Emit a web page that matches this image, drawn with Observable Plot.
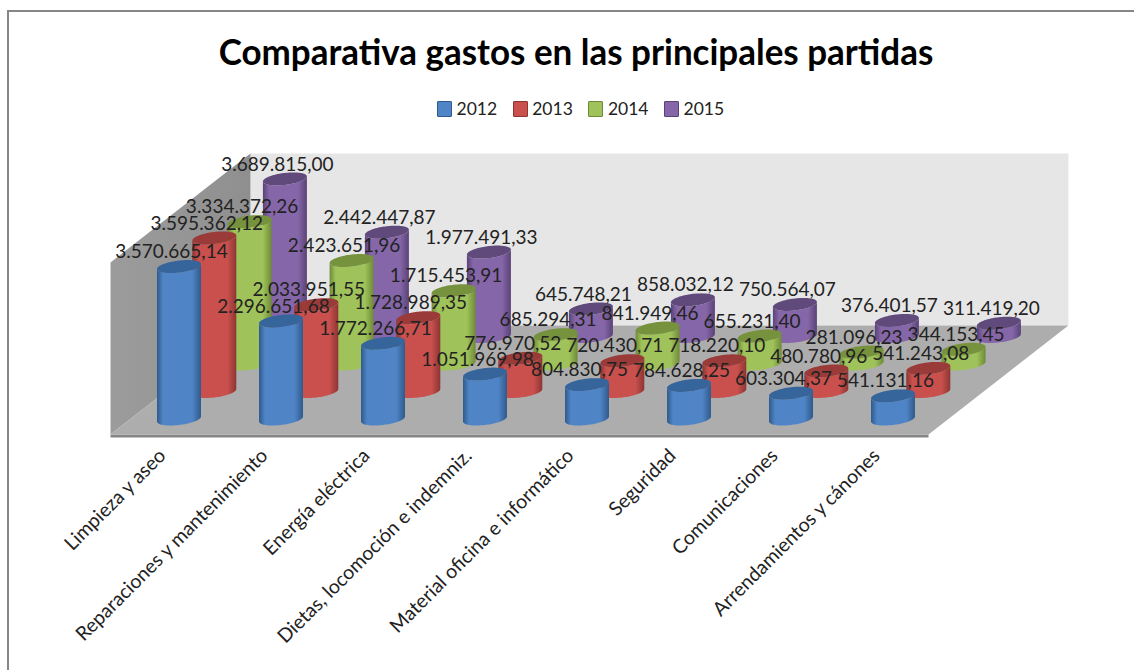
<!DOCTYPE html>
<html lang="es">
<head>
<meta charset="utf-8">
<script src="https://cdn.jsdelivr.net/npm/d3@7"></script>
<script src="https://cdn.jsdelivr.net/npm/@observablehq/plot@0.6"></script>
<style>
  html, body { margin: 0; background: #fff; overflow: hidden; }
  #frame { position: relative; width: 1134px; height: 670px; box-sizing: border-box; font-family: Lato, sans-serif; color: #222; }
  #frame::before { content: ""; position: absolute; left: 7px; top: 10px; right: 0; bottom: 0; border: solid #868686; border-width: 2px 0 0 2px; pointer-events: none; }
  #head { height: 130px; position: relative; }
  #title { position: absolute; left: 0; width: 1152px; top: 28px; text-align: center; font-size: 37px; font-weight: 700; line-height: 46px; color: #000; transform: scaleX(0.945); }
  #legend { position: absolute; left: 437px; top: 98px; display: flex; gap: 0; font-size: 17.5px; line-height: 22px; }
  #legend span.item { display: flex; align-items: center; gap: 4.5px; width: 75.7px; }
  #legend i { display: block; width: 13px; height: 14px; border: 1px solid; border-radius: 1px; }
  svg { display: block; }
</style>
</head>
<body>
<div id="frame">
  <div id="head">
    <div id="title">Comparativa gastos en las principales partidas</div>
    <div id="legend"></div>
  </div>
  <div id="chart"></div>
</div>
<script>
const categories = ["Limpieza y aseo","Reparaciones y mantenimiento","Energía eléctrica","Dietas, locomoción e indemniz.","Material oficina e informático","Seguridad","Comunicaciones","Arrendamientos y cánones"];
const years = ["2012","2013","2014","2015"];
const values2012 = [3570665.14,2296651.68,1772266.71,1051969.98,804830.75,784628.25,603304.37,541131.16];
const values2013 = [3595362.12,2033951.55,1728989.35,776970.52,720430.71,718220.10,480780.96,541243.08];
const values2014 = [3334372.26,2423651.96,1715453.91,685294.31,841949.46,655231.40,281096.23,344153.45];
const values2015 = [3689815.00,2442447.87,1977491.33,645748.21,858032.12,750564.07,376401.57,311419.20];
const allValues = [values2012,values2013,values2014,values2015];
const bodyColors = ["#4f85c6","#c9504d","#9fc35a","#8566a8"];
const edgeColors = ["#2f5a8c","#8c3533","#6f8a37","#5a4276"];
const capColors  = ["#36659b","#9a3b39","#76923c","#604a7b"];

// Oblique projection of (category, depth, value) into the plot's x / y scale units.
const pxPerCat = 102, pxPerVal = 4.27e-5;
const dxDepth = 35.3 / pxPerCat, dyDepth = 27.5 / pxPerVal;
const X = (i, j) => i + j * dxDepth;
const Y = (j, v) => v + j * dyDepth;
const svgTop = 130, svgH = 540;
const baseX = 179, baseY = 419;

const rx = 22 / pxPerCat, ry = 6 / pxPerVal, tilt = 2.5 / pxPerVal;
const N = 48;
function arcs(cx, yA, yB, capMode) {
  return d3.range(N + 1).map(k => {
    const c = -Math.cos(Math.PI * k / N), s = Math.sin(Math.PI * k / N);
    return {
      x: cx + rx * c,
      y1: yA + tilt * c - ry * s,
      y2: capMode ? yA + tilt * c + ry * s : yB + tilt * c - ry * s
    };
  });
}

const jFront = -15 / 27.5, jBack = jFront + 109 / 27.5;
const iLeft = (110 - baseX) / pxPerCat - jFront * dxDepth;
const iRight = iLeft + 818 / pxPerCat;
const vMax = 4030000;
const corner = (i, j, v) => ({x: X(i, j), y: Y(j, v)});
const poly = (pts, fill) => Plot.line([...pts, pts[0]], {x: "x", y: "y", fill, stroke: "none", curve: "linear"});

const marks = [
  poly([corner(iLeft, jBack, 0), corner(iRight, jBack, 0), corner(iRight, jBack, vMax), corner(iLeft, jBack, vMax)], "#e6e6e6"),
  poly([corner(iLeft, jFront, 0), corner(iLeft, jBack, 0), corner(iLeft, jBack, vMax), corner(iLeft, jFront, vMax)], "url(#wall)"),
  poly([corner(iLeft, jFront, -70000), corner(iRight, jFront, -70000), corner(iRight, jFront, 0), corner(iLeft, jFront, 0)], "#868686"),
  poly([corner(iLeft, jFront, 0), corner(iRight, jFront, 0), corner(iRight, jBack, 0), corner(iLeft, jBack, 0)], "#adadad")
];

for (let j = 3; j >= 0; j--) {
  for (let i = 0; i < categories.length; i++) {
    const v = allValues[j][i], cx = X(i, j), y0 = Y(j, 0), y1 = Y(j, v);
    marks.push(Plot.area(arcs(cx, y0, y1, false), {x1: "x", y1: "y1", y2: "y2", fill: `url(#body${j})`, curve: "linear"}));
    marks.push(Plot.area(arcs(cx, y1, y1, true), {x1: "x", y1: "y1", y2: "y2", fill: capColors[j], curve: "linear"}));
  }
}

const es = d3.formatLocale({decimal: ",", thousands: ".", grouping: [3], currency: ["", "€"]});
const fmt = es.format(",.2f");
const labels = allValues.flatMap((vals, j) => vals.map((v, i) => ({
  x: X(i, j) - 8 / pxPerCat,
  y: Y(j, v) + 15 / pxPerVal,
  text: fmt(v)
})));
marks.push(Plot.text(labels, {x: "x", y: "y", text: "text", fill: "#222", fontSize: 19, fontFamily: "Lato, sans-serif"}));

marks.push(Plot.text(categories, {
  x: (d, i) => X(i, 0) - 17 / pxPerCat,
  y: () => (baseY - 452) / pxPerVal,
  text: d => d,
  rotate: -45,
  textAnchor: "end",
  fill: "#222",
  fontSize: 19.5,
  fontFamily: "Lato, sans-serif"
}));

const plot = Plot.plot({
  width: 1134,
  height: svgH,
  margin: 0,
  style: {background: "transparent", overflow: "visible"},
  x: {domain: [-baseX / pxPerCat, (1134 - baseX) / pxPerCat], range: [0, 1134], axis: null},
  y: {domain: [(baseY - (svgTop + svgH)) / pxPerVal, (baseY - svgTop) / pxPerVal], range: [svgH, 0], axis: null},
  marks
});

const ns = "http://www.w3.org/2000/svg";
const defs = document.createElementNS(ns, "defs");
function gradient(id, stops) {
  const g = document.createElementNS(ns, "linearGradient");
  g.setAttribute("id", id);
  g.setAttribute("x1", "0"); g.setAttribute("x2", "1"); g.setAttribute("y1", "0"); g.setAttribute("y2", "0");
  stops.forEach(([o, c]) => {
    const s = document.createElementNS(ns, "stop");
    s.setAttribute("offset", o); s.setAttribute("stop-color", c);
    g.appendChild(s);
  });
  defs.appendChild(g);
}
bodyColors.forEach((c, j) => gradient(`body${j}`, [[0, edgeColors[j]], [0.14, c], [0.8, c], [1, edgeColors[j]]]));
gradient("wall", [[0, "#9c9c9c"], [1, "#8f8f8f"]]);
plot.insertBefore(defs, plot.firstChild);
document.getElementById("chart").appendChild(plot);

const legend = document.getElementById("legend");
years.forEach((y, j) => {
  const item = document.createElement("span");
  item.className = "item";
  const sw = document.createElement("i");
  sw.style.background = bodyColors[j];
  sw.style.borderColor = edgeColors[j];
  item.appendChild(sw);
  item.appendChild(document.createTextNode(y));
  legend.appendChild(item);
});
</script>
</body>
</html>
